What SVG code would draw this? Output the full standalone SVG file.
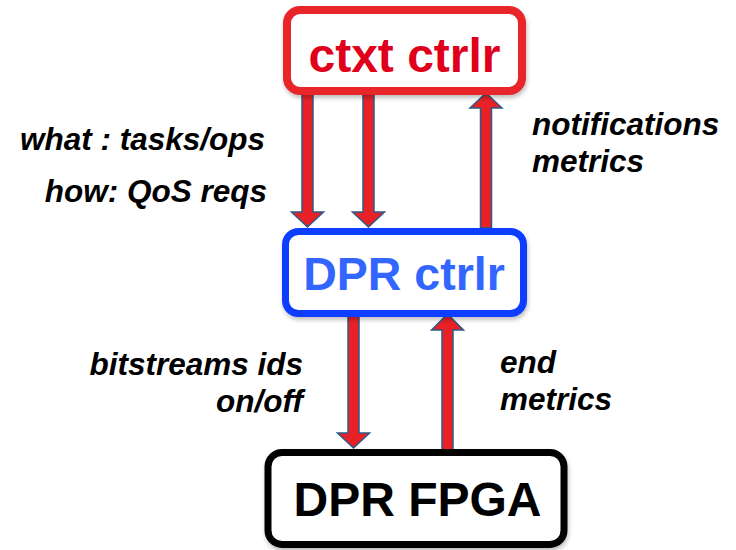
<svg xmlns="http://www.w3.org/2000/svg" width="736" height="550" viewBox="0 0 736 550">
<defs>
<filter id="sh" x="-10%" y="-10%" width="120%" height="130%">
<feDropShadow dx="1" dy="3" stdDeviation="2" flood-color="#000" flood-opacity="0.25"/>
</filter>
</defs>
<style>
.box{fill:#fff;filter:url(#sh)}
.title{font-family:"Liberation Sans",Arial,sans-serif;font-weight:bold;font-size:48px;text-anchor:middle}
.lbl{font-family:"Liberation Sans",Arial,sans-serif;font-weight:bold;font-style:italic;font-size:31.5px;fill:#000}
.arr{fill:#e82127;stroke:#2c5a88;stroke-width:1.5;stroke-linejoin:miter}
</style>
<rect width="736" height="550" fill="#fff"/>
<g id="connectors">
<path class="arr" d="M302,93 L313,93 L313,212 L323.5,212 L307.5,227 L291.5,212 L302,212 Z"/>
<path class="arr" d="M363,93 L374,93 L374,212 L384.5,212 L368.5,227 L352.5,212 L363,212 Z"/>
<path class="arr" d="M486,93 L502,108 L491.5,108 L491.5,228 L480.5,228 L480.5,108 L470,108 Z"/>
<path class="arr" d="M348,314 L359,314 L359,433 L369.5,433 L353.5,448 L337.5,433 L348,433 Z"/>
<path class="arr" d="M447.5,314 L463.5,330 L453,330 L453,450 L442,450 L442,330 L431.5,330 Z"/>
</g>
<g id="ctxt-ctrlr">
<rect class="box" x="287" y="10" width="235" height="81" rx="13" stroke="#e8262b" stroke-width="8"/>
<text class="title" x="404.5" y="72" fill="#e0001b">ctxt ctrlr</text>
</g>
<g id="dpr-ctrlr">
<rect class="box" x="285.5" y="231.5" width="238" height="82" rx="13" stroke="#0a3cff" stroke-width="7"/>
<text class="title" x="404" y="290" fill="#3366ff" style="font-size:46.5px">DPR ctrlr</text>
</g>
<g id="dpr-fpga">
<rect class="box" x="268" y="452.5" width="296" height="92" rx="14" stroke="#000" stroke-width="7"/>
<text class="title" x="417.5" y="516" fill="#000">DPR FPGA</text>
</g>
<g id="labels">
<text class="lbl" x="20" y="150">what : tasks/ops</text>
<text class="lbl" x="267" y="202" text-anchor="end">how: QoS reqs</text>
<text class="lbl" x="532" y="135">notifications</text>
<text class="lbl" x="532" y="172">metrics</text>
<text class="lbl" x="303" y="375" text-anchor="end">bitstreams ids</text>
<text class="lbl" x="303" y="412" text-anchor="end">on/off</text>
<text class="lbl" x="500" y="373">end</text>
<text class="lbl" x="500" y="410">metrics</text>
</g>
</svg>
